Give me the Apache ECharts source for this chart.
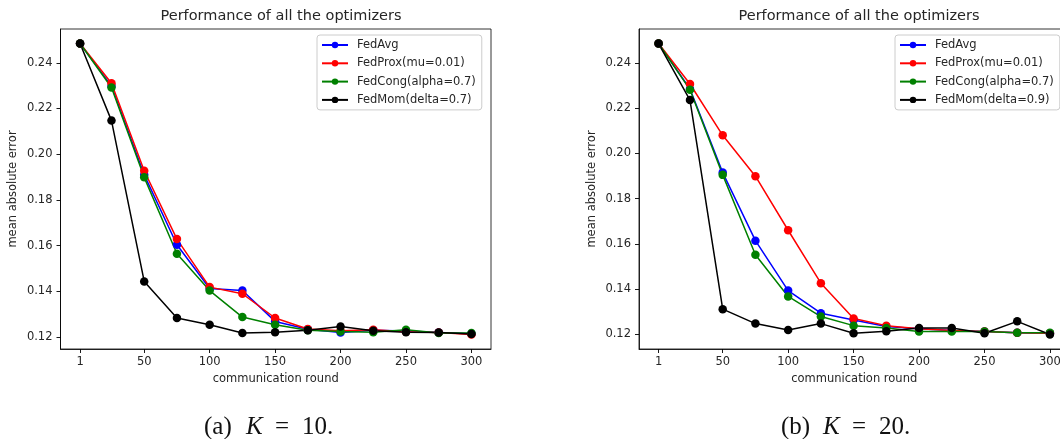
<!DOCTYPE html>
<html>
<head>
<meta charset="utf-8">
<script src="https://cdn.jsdelivr.net/npm/echarts@6/dist/echarts.min.js"></script>
<style>
  html, body { margin: 0; padding: 0; background: #fff; }
  #chart { width: 1060px; height: 439px; }
</style>
</head>
<body>
<div id="chart"></div>
<script>
// Communication rounds at which the error was recorded
const rounds = [1, 25, 50, 75, 100, 125, 150, 175, 200, 225, 250, 275, 300];
const xTicks = [1, 50, 100, 150, 200, 250, 300];
const yTicks = [0.12, 0.14, 0.16, 0.18, 0.20, 0.22, 0.24];

// (a) K = 10
const k10FedAvg  = [0.2484, 0.2298, 0.1910, 0.1604, 0.1413, 0.1404, 0.1269, 0.1235, 0.1221, 0.1230, 0.1227, 0.1221, 0.1215];
const k10FedProx = [0.2484, 0.2310, 0.1928, 0.1629, 0.1419, 0.1390, 0.1284, 0.1236, 0.1228, 0.1233, 0.1224, 0.1221, 0.1212];
const k10FedCong = [0.2484, 0.2292, 0.1899, 0.1565, 0.1404, 0.1288, 0.1254, 0.1230, 0.1225, 0.1222, 0.1233, 0.1218, 0.1218];
const k10FedMom  = [0.2484, 0.2147, 0.1444, 0.1284, 0.1254, 0.1218, 0.1222, 0.1230, 0.1247, 0.1228, 0.1222, 0.1221, 0.1214];

// (b) K = 20
const k20FedAvg  = [0.2486, 0.2285, 0.1915, 0.1614, 0.1393, 0.1293, 0.1263, 0.1234, 0.1224, 0.1216, 0.1212, 0.1207, 0.1204];
const k20FedProx = [0.2486, 0.2307, 0.2080, 0.1899, 0.1660, 0.1426, 0.1270, 0.1238, 0.1224, 0.1216, 0.1212, 0.1207, 0.1204];
const k20FedCong = [0.2486, 0.2282, 0.1905, 0.1552, 0.1367, 0.1278, 0.1238, 0.1228, 0.1212, 0.1212, 0.1212, 0.1207, 0.1207];
const k20FedMom  = [0.2486, 0.2236, 0.1311, 0.1247, 0.1219, 0.1247, 0.1204, 0.1213, 0.1228, 0.1228, 0.1204, 0.1257, 0.1199];

const namesA = ['FedAvg', 'FedProx(mu=0.01)', 'FedCong(alpha=0.7)', 'FedMom(delta=0.7)'];
const namesB = ['FedAvg', 'FedProx(mu=0.01)', 'FedCong(alpha=0.7)', 'FedMom(delta=0.9)'];
const colors = ['#0000ff', '#ff0000', '#008000', '#000000'];

const FONT = 'DejaVu Sans';
const TXT = '#262626';
const SERIF = 'Liberation Serif';

// 5% padding around the data range on each side
function padded(arrs) {
  let lo = Infinity, hi = -Infinity;
  arrs.forEach(a => a.forEach(v => { lo = Math.min(lo, v); hi = Math.max(hi, v); }));
  const m = (hi - lo) * 0.05;
  return [lo - m, hi + m];
}
const xPad = (rounds[rounds.length - 1] - rounds[0]) * 0.05;
const yA = padded([k10FedAvg, k10FedProx, k10FedCong, k10FedMom]);
const yB = padded([k20FedAvg, k20FedProx, k20FedCong, k20FedMom]);

const tickStyle = { show: true, inside: false, length: 4, lineStyle: { color: '#000', width: 0.9 } };

function xAxis(gi) {
  return {
    type: 'value', gridIndex: gi, position: 'bottom',
    min: rounds[0] - xPad, max: rounds[rounds.length - 1] + xPad,
    name: 'communication round', nameLocation: 'middle', nameGap: 23,
    nameTextStyle: { fontFamily: FONT, fontSize: 11.5, color: TXT },
    axisLine: { show: true, onZero: false, lineStyle: { color: '#000', width: 0.8 } },
    axisTick: Object.assign({ customValues: xTicks }, tickStyle),
    axisLabel: { customValues: xTicks, margin: 7, fontFamily: FONT, fontSize: 11.5, color: TXT },
    splitLine: { show: false }
  };
}
function yAxis(gi, range) {
  return {
    type: 'value', gridIndex: gi, position: 'left', min: range[0], max: range[1],
    name: 'mean absolute error', nameLocation: 'middle', nameRotate: 90, nameGap: 41,
    nameTextStyle: { fontFamily: FONT, fontSize: 11.5, color: TXT },
    axisLine: { show: true, onZero: false, lineStyle: { color: '#000', width: 0.8 } },
    axisTick: Object.assign({ customValues: yTicks }, tickStyle),
    axisLabel: { customValues: yTicks, margin: 8, fontFamily: FONT, fontSize: 11.5, color: TXT,
                 formatter: v => v.toFixed(2) },
    splitLine: { show: false }
  };
}
function lineSeries(name, values, color, gi) {
  return {
    type: 'line', name: name, xAxisIndex: gi, yAxisIndex: gi,
    data: rounds.map((r, i) => [r, values[i]]),
    symbol: 'circle', symbolSize: 8.5, showSymbol: true,
    itemStyle: { color: color, borderWidth: 0 },
    lineStyle: { color: color, width: 1.5 },
    emphasis: { disabled: true },
    animation: false
  };
}
function legend(left, names) {
  return {
    orient: 'vertical', left: left, top: 35,
    data: names,
    itemWidth: 26, itemHeight: 8, itemGap: 4.3,
    padding: [3, 6, 3, 4],
    borderColor: '#cccccc', borderWidth: 1, borderRadius: 3,
    backgroundColor: 'rgba(255,255,255,0.85)',
    textStyle: { fontFamily: FONT, fontSize: 11.5, color: TXT, lineHeight: 14, padding: [0, 0, 0, 4] }
  };
}
// Sub-figure caption such as "(a) K = 10." with an italic K
function caption(x, label, k) {
  const base = { fontFamily: SERIF, fontSize: 25, color: '#111', align: 'left' };
  return {
    text: '{p|(' + label + ')}{k|K}{e|=}{n|' + k + '.}',
    left: x, top: 410,
    textStyle: {
      fontFamily: SERIF, fontSize: 25, fontWeight: 'normal', color: '#111',
      rich: {
        p: Object.assign({ width: 42 }, base),
        k: Object.assign({ width: 29, fontStyle: 'italic' }, base),
        e: Object.assign({ width: 27 }, base),
        n: Object.assign({ width: 32 }, base)
      }
    }
  };
}

const chart = echarts.init(document.getElementById('chart'), null, { renderer: 'canvas' });
chart.setOption({
  backgroundColor: '#fff',
  animation: false,
  title: [
    { text: 'Performance of all the optimizers', left: 276, top: 4, textAlign: 'center',
      textStyle: { fontFamily: FONT, fontSize: 14.5, fontWeight: 'normal', color: TXT } },
    { text: 'Performance of all the optimizers', left: 854, top: 4, textAlign: 'center',
      textStyle: { fontFamily: FONT, fontSize: 14.5, fontWeight: 'normal', color: TXT } },
    caption(199, 'a', 10),
    caption(776, 'b', 20)
  ],
  legend: [legend(317, namesA), legend(895, namesB)],
  grid: [
    { left: 60.5, top: 29, width: 430.5, height: 320, show: true, borderColor: '#000', borderWidth: 0.8,
      backgroundColor: 'transparent', outerBoundsMode: 'none', containLabel: false },
    { left: 639, top: 29, width: 430.5, height: 320, show: true, borderColor: '#000', borderWidth: 0.8,
      backgroundColor: 'transparent', outerBoundsMode: 'none', containLabel: false }
  ],
  xAxis: [xAxis(0), xAxis(1)],
  yAxis: [yAxis(0, yA), yAxis(1, yB)],
  series: [
    lineSeries(namesA[0], k10FedAvg, colors[0], 0),
    lineSeries(namesA[1], k10FedProx, colors[1], 0),
    lineSeries(namesA[2], k10FedCong, colors[2], 0),
    lineSeries(namesA[3], k10FedMom, colors[3], 0),
    lineSeries(namesB[0], k20FedAvg, colors[0], 1),
    lineSeries(namesB[1], k20FedProx, colors[1], 1),
    lineSeries(namesB[2], k20FedCong, colors[2], 1),
    lineSeries(namesB[3], k20FedMom, colors[3], 1)
  ]
});
</script>
</body>
</html>
